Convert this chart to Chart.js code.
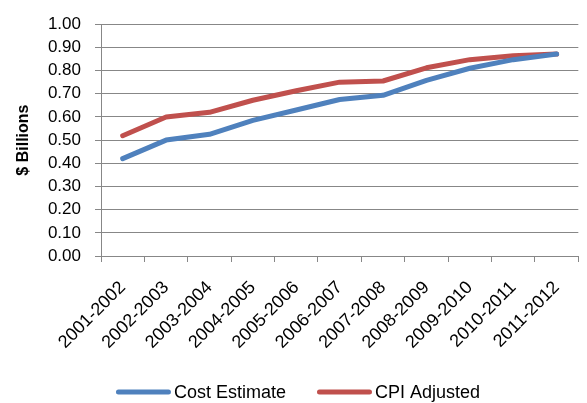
<!DOCTYPE html>
<html>
<head>
<meta charset="utf-8">
<script src="https://cdn.jsdelivr.net/npm/chart.js@4.4.1/dist/chart.umd.min.js"></script>
<style>
  html, body { margin: 0; padding: 0; background: #ffffff; }
  #wrap { width: 587px; height: 403px; }
</style>
</head>
<body>
<div id="wrap"><canvas id="chart" width="587" height="403"></canvas></div>
<script>
// Fiscal years on the category axis
const fiscalYears = [
  '2001-2002', '2002-2003', '2003-2004', '2004-2005', '2005-2006', '2006-2007',
  '2007-2008', '2008-2009', '2009-2010', '2010-2011', '2011-2012'
];

// Values in $ billions
const costEstimate = [0.42, 0.50, 0.525, 0.585, 0.63, 0.675, 0.693, 0.758, 0.81, 0.847, 0.871];
const cpiAdjusted  = [0.519, 0.60, 0.62, 0.672, 0.713, 0.75, 0.755, 0.812, 0.847, 0.864, 0.871];

// Y axis range and step
const yMin = 0;
const yMax = 1;
const yStep = 0.1;

const FONT = '"Liberation Sans", Arial, sans-serif';
const GRID = '#878787';

// Bottom legend: a thick line sample followed by the series name
const bottomLegend = {
  id: 'bottomLegend',
  afterDraw(chart) {
    const ctx = chart.ctx;
    const sampleW = 55, sampleGap = 3, itemGap = 31, y = 392;
    ctx.save();
    ctx.font = '18px ' + FONT;
    const items = chart.data.datasets.map(ds => ({
      text: ds.label,
      color: ds.borderColor,
      w: sampleW + sampleGap + ctx.measureText(ds.label).width
    }));
    const total = items.reduce((s, it) => s + it.w, 0) + itemGap * (items.length - 1);
    let x = 298 - total / 2;
    items.forEach(it => {
      ctx.strokeStyle = it.color;
      ctx.lineWidth = 5;
      ctx.lineCap = 'round';
      ctx.beginPath();
      ctx.moveTo(x + 2.5, y);
      ctx.lineTo(x + sampleW - 2.5, y);
      ctx.stroke();
      ctx.fillStyle = '#000000';
      ctx.textAlign = 'left';
      ctx.textBaseline = 'middle';
      ctx.fillText(it.text, x + sampleW + sampleGap, y + 1);
      x += it.w + itemGap;
    });
    ctx.restore();
  }
};

new Chart(document.getElementById('chart'), {
  type: 'line',
  data: {
    labels: fiscalYears,
    datasets: [
      {
        label: 'Cost Estimate',
        data: costEstimate,
        borderColor: '#4F81BD',
        backgroundColor: '#4F81BD',
        borderWidth: 5,
        pointRadius: 0,
        tension: 0,
        borderCapStyle: 'round',
        borderJoinStyle: 'round'
      },
      {
        label: 'CPI Adjusted',
        data: cpiAdjusted,
        borderColor: '#C0504D',
        backgroundColor: '#C0504D',
        borderWidth: 5,
        pointRadius: 0,
        tension: 0,
        borderCapStyle: 'round',
        borderJoinStyle: 'round'
      }
    ]
  },
  plugins: [bottomLegend],
  options: {
    responsive: false,
    animation: false,
    layout: { padding: { top: 16, right: 2, left: 0, bottom: 0 } },
    plugins: {
      tooltip: { enabled: false },
      legend: { display: false }
    },
    scales: {
      x: {
        offset: true,
        grid: {
          display: true,
          drawOnChartArea: false,
          drawTicks: true,
          tickLength: 6,
          color: GRID,
          offset: true
        },
        border: { color: GRID, width: 1 },
        ticks: {
          color: '#000000',
          font: { family: FONT, size: 18 },
          minRotation: 45,
          maxRotation: 45,
          padding: 15,
          autoSkip: false
        },
        afterFit: (scale) => { scale.height = 147; }
      },
      y: {
        min: yMin,
        max: yMax,
        grid: {
          color: GRID,
          lineWidth: 1,
          tickLength: 6
        },
        border: { color: GRID, width: 1 },
        ticks: {
          stepSize: yStep,
          autoSkip: false,
          color: '#000000',
          font: { family: FONT, size: 17 },
          padding: 14,
          callback: (v) => Number(v).toFixed(2)
        },
        title: {
          display: true,
          text: '$ Billions',
          color: '#000000',
          font: { family: FONT, size: 16, weight: 'bold' },
          padding: { top: 14, bottom: 0 }
        },
        afterFit: (scale) => { scale.width = 101; }
      }
    }
  }
});
</script>
</body>
</html>
